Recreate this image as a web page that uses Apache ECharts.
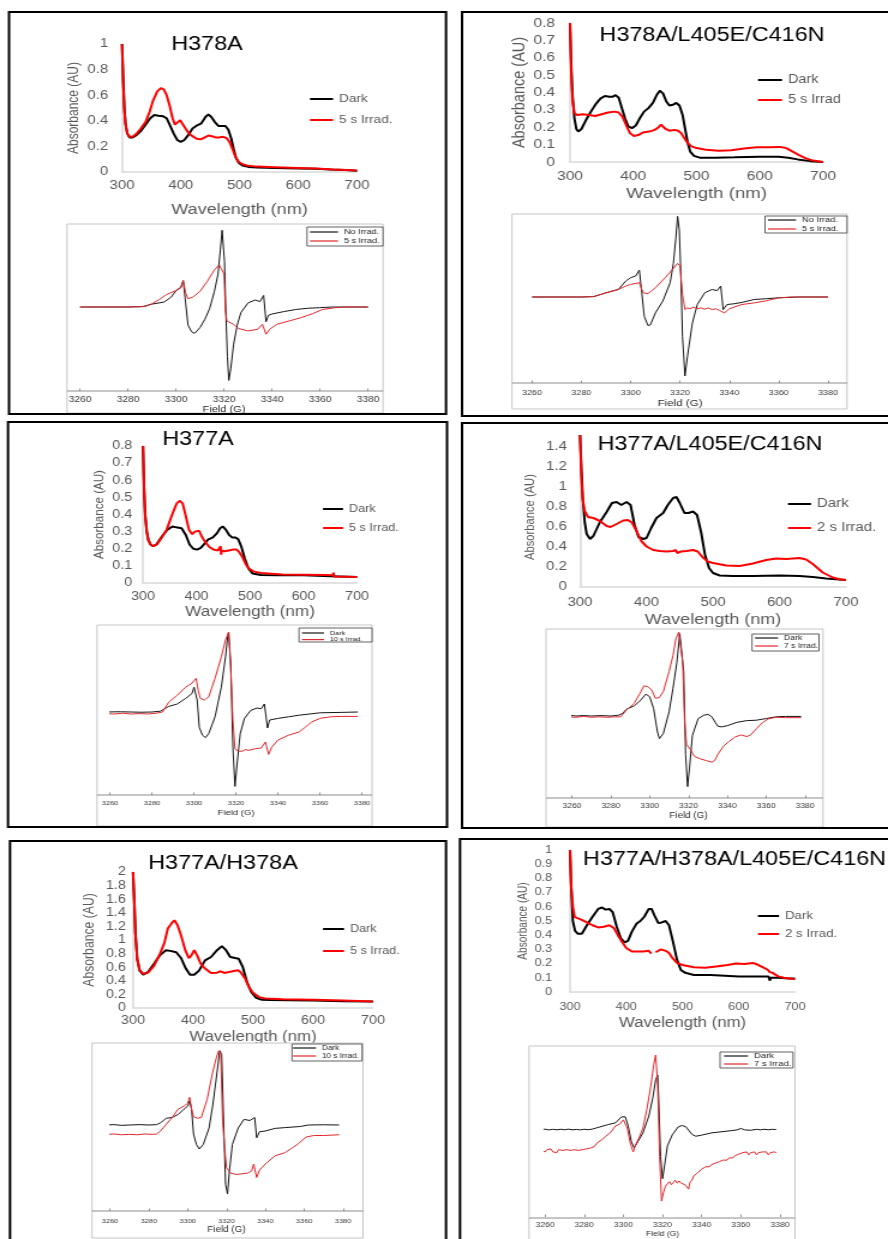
<!DOCTYPE html>
<html>
<head>
<meta charset="utf-8">
<title>Absorbance and EPR spectra of the mutants</title>
<script src="https://cdn.jsdelivr.net/npm/echarts@6/dist/echarts.min.js"></script>
<style>
  html, body { margin: 0; padding: 0; background: #fff; overflow: hidden; }
  /* the figure is laid out narrow and stretched horizontally by 1.2 */
  #chart { position: absolute; left: 0; top: 0; width: 740px; height: 1239px;
           transform: scaleX(1.2); transform-origin: 0 0; }
</style>
</head>
<body>
<div id="chart"></div>
<script>
// ---------- UV-vis absorbance spectra: [wavelength nm, absorbance AU] ----------
const h378aDark = [[300,1.0],[302,0.72],[304,0.5],[306,0.38],[309,0.3],[313,0.27],[318,0.27],[325,0.29],[332,0.32],[340,0.37],[348,0.42],[355,0.445],[362,0.44],[370,0.435],[376,0.42],[382,0.36],[388,0.3],[394,0.25],[400,0.235],[406,0.25],[413,0.29],[420,0.34],[428,0.365],[435,0.38],[442,0.43],[447,0.45],[452,0.43],[458,0.39],[464,0.36],[470,0.36],[476,0.36],[481,0.33],[486,0.26],[490,0.18],[494,0.11],[499,0.07],[505,0.05],[515,0.04],[530,0.035],[560,0.032],[600,0.028],[630,0.025],[654,0.02],[656,0.008],[658,0.02],[680,0.015],[700,0.01]];
const h378aIrrad = [[300,1.0],[302,0.7],[304,0.48],[306,0.37],[309,0.3],[313,0.275],[318,0.275],[325,0.3],[332,0.34],[340,0.39],[347,0.47],[353,0.56],[360,0.63],[366,0.655],[371,0.645],[376,0.6],[381,0.52],[386,0.42],[390,0.37],[394,0.37],[399,0.405],[403,0.395],[408,0.34],[414,0.3],[420,0.28],[427,0.26],[434,0.255],[441,0.27],[447,0.285],[453,0.28],[459,0.27],[465,0.27],[472,0.275],[478,0.265],[483,0.235],[488,0.18],[493,0.12],[498,0.08],[505,0.06],[515,0.048],[530,0.042],[560,0.038],[600,0.032],[630,0.027],[660,0.02],[700,0.012]];

const h378aTripleDark = [[300,0.8],[302,0.55],[304,0.38],[307,0.25],[310,0.19],[313,0.175],[318,0.19],[325,0.24],[333,0.29],[340,0.33],[348,0.365],[355,0.38],[362,0.375],[367,0.375],[372,0.385],[377,0.37],[382,0.31],[387,0.25],[392,0.205],[398,0.195],[404,0.21],[410,0.25],[417,0.29],[424,0.31],[431,0.34],[437,0.385],[442,0.41],[447,0.395],[452,0.35],[457,0.325],[463,0.33],[468,0.34],[473,0.325],[478,0.27],[482,0.19],[486,0.11],[490,0.06],[496,0.035],[505,0.025],[530,0.025],[560,0.027],[600,0.03],[630,0.03],[645,0.025],[660,0.015],[680,0.005],[700,0]];
const h378aTripleIrrad = [[300,0.8],[302,0.5],[304,0.35],[307,0.28],[312,0.27],[320,0.275],[330,0.27],[340,0.265],[350,0.275],[360,0.285],[370,0.29],[377,0.285],[383,0.26],[389,0.21],[395,0.165],[401,0.15],[408,0.155],[415,0.17],[425,0.175],[434,0.185],[440,0.2],[444,0.215],[447,0.205],[451,0.19],[457,0.18],[465,0.185],[471,0.18],[476,0.165],[481,0.135],[486,0.11],[492,0.09],[500,0.08],[515,0.07],[535,0.065],[555,0.068],[575,0.078],[595,0.085],[615,0.085],[632,0.087],[642,0.08],[652,0.06],[662,0.04],[672,0.022],[684,0.008],[700,0]];

const h377aDark = [[300,0.8],[302,0.55],[304,0.4],[307,0.3],[310,0.25],[314,0.225],[319,0.215],[325,0.225],[335,0.27],[345,0.31],[355,0.33],[362,0.325],[372,0.32],[380,0.28],[387,0.225],[394,0.2],[401,0.195],[408,0.205],[415,0.23],[422,0.255],[430,0.265],[438,0.29],[444,0.32],[449,0.33],[455,0.31],[461,0.28],[467,0.265],[473,0.265],[478,0.255],[484,0.21],[490,0.145],[497,0.085],[505,0.055],[520,0.047],[550,0.045],[600,0.045],[650,0.04],[700,0.035]];
const h377aIrrad = [[300,0.8],[302,0.55],[304,0.4],[307,0.3],[310,0.25],[314,0.225],[319,0.215],[326,0.225],[335,0.265],[344,0.31],[351,0.37],[357,0.42],[363,0.465],[369,0.48],[374,0.465],[380,0.39],[386,0.31],[392,0.285],[397,0.3],[401,0.31],[405,0.305],[410,0.27],[416,0.24],[424,0.21],[432,0.195],[440,0.19],[444,0.19],[445,0.215],[446,0.165],[447,0.19],[452,0.185],[460,0.19],[468,0.195],[475,0.195],[480,0.18],[486,0.15],[492,0.11],[498,0.085],[506,0.068],[520,0.058],[560,0.05],[600,0.048],[640,0.046],[655,0.045],[656,0.06],[657,0.038],[660,0.044],[700,0.035]];

const h377aTripleDark = [[300,1.52],[302,1.2],[304,0.9],[307,0.65],[310,0.53],[315,0.48],[320,0.51],[330,0.65],[340,0.75],[348,0.84],[355,0.85],[362,0.82],[370,0.85],[376,0.82],[382,0.62],[388,0.5],[395,0.48],[400,0.49],[407,0.59],[415,0.69],[425,0.74],[432,0.82],[440,0.89],[445,0.9],[450,0.84],[457,0.74],[463,0.74],[470,0.755],[476,0.72],[482,0.55],[488,0.32],[494,0.19],[500,0.14],[510,0.115],[530,0.11],[560,0.11],[600,0.115],[630,0.11],[650,0.1],[670,0.085],[690,0.075],[700,0.07]];
const h377aTripleIrrad = [[300,1.52],[302,1.1],[304,0.88],[307,0.76],[312,0.7],[320,0.69],[330,0.66],[340,0.61],[346,0.6],[355,0.63],[365,0.665],[372,0.67],[378,0.645],[385,0.56],[392,0.46],[400,0.405],[410,0.37],[420,0.36],[430,0.355],[440,0.36],[444,0.37],[446,0.34],[448,0.36],[452,0.355],[460,0.36],[470,0.37],[477,0.355],[484,0.3],[492,0.255],[500,0.24],[520,0.215],[540,0.21],[560,0.235],[580,0.27],[595,0.285],[610,0.28],[630,0.29],[640,0.275],[650,0.23],[665,0.145],[680,0.095],[690,0.078],[700,0.07]];

const doubleDark = [[300,2.0],[302,1.6],[304,1.1],[307,0.72],[311,0.55],[317,0.49],[325,0.53],[335,0.65],[345,0.78],[355,0.85],[362,0.84],[372,0.82],[380,0.735],[388,0.58],[395,0.49],[402,0.49],[410,0.55],[420,0.7],[430,0.75],[440,0.85],[448,0.91],[455,0.85],[462,0.75],[470,0.735],[476,0.725],[483,0.6],[490,0.38],[497,0.235],[505,0.15],[515,0.12],[530,0.118],[560,0.115],[600,0.11],[650,0.1],[700,0.095]];
const doubleIrrad = [[300,2.0],[302,1.6],[304,1.1],[307,0.72],[311,0.56],[317,0.5],[325,0.52],[335,0.62],[345,0.8],[352,0.95],[358,1.17],[365,1.255],[369,1.29],[374,1.22],[380,1.07],[387,0.85],[393,0.735],[397,0.77],[402,0.85],[407,0.77],[413,0.65],[420,0.58],[430,0.515],[440,0.52],[444,0.5],[446,0.54],[452,0.515],[460,0.53],[468,0.545],[475,0.555],[480,0.52],[487,0.43],[493,0.31],[500,0.225],[510,0.16],[520,0.14],[550,0.13],[600,0.12],[650,0.11],[700,0.095]];

const quadDark = [[300,1.0],[302,0.75],[305,0.5],[309,0.43],[314,0.41],[321,0.41],[330,0.47],[340,0.53],[350,0.585],[357,0.595],[363,0.58],[370,0.585],[376,0.56],[383,0.46],[390,0.38],[397,0.35],[403,0.36],[410,0.425],[418,0.48],[425,0.5],[432,0.53],[440,0.585],[445,0.585],[450,0.54],[457,0.485],[463,0.49],[470,0.5],[476,0.47],[483,0.355],[490,0.23],[497,0.155],[505,0.135],[520,0.12],[550,0.12],[600,0.11],[640,0.11],[653,0.11],[655,0.08],[657,0.1],[670,0.1],[690,0.095],[700,0.095]];
const quadIrrad = [[300,1.0],[302,0.75],[305,0.6],[308,0.53],[313,0.52],[320,0.51],[330,0.49],[340,0.47],[350,0.455],[360,0.46],[370,0.47],[378,0.45],[385,0.4],[392,0.355],[400,0.31],[410,0.285],[420,0.285],[430,0.285],[440,0.29],[443,0.3],[444.5,0.27],[449,'-'],[452,0.28],[455,0.275],[462,0.3],[470,0.29],[476,0.275],[482,0.24],[490,0.205],[500,0.19],[520,0.175],[540,0.17],[560,0.18],[580,0.19],[595,0.2],[610,0.197],[625,0.205],[635,0.19],[645,0.17],[652,0.155],[655,0.14],[660,0.135],[670,0.11],[680,0.1],[690,0.095],[700,0.09]];

// ---------- EPR derivative spectra: [field G, normalised intensity] ----------
const eprH378aDark = [[3260,0],[3270,0],[3280,0],[3286,0.005],[3290,0.035],[3295,0.06],[3298,0.12],[3300,0.2],[3302,0.24],[3303,0.32],[3304,0.05],[3305,-0.22],[3306.5,-0.3],[3307.7,-0.32],[3310,-0.25],[3312,-0.15],[3314,-0.02],[3316,0.19],[3317.5,0.4],[3318.5,0.7],[3319.2,0.93],[3319.7,0.94],[3320.2,0.55],[3320.8,-0.1],[3321.4,-0.6],[3322,-0.89],[3322.8,-0.75],[3324,-0.45],[3325.5,-0.22],[3327,-0.07],[3330,0.05],[3333,0.085],[3335,0.065],[3336.5,0.14],[3337.5,-0.18],[3338.5,-0.1],[3340,-0.085],[3345,-0.055],[3350,-0.03],[3355,-0.015],[3360,-0.008],[3365,0],[3380,0]];
const eprH378aIrrad = [[3260,0],[3270,0],[3280,0],[3287,0.005],[3290,0.04],[3293,0.09],[3296,0.15],[3300,0.2],[3302,0.23],[3303,0.32],[3304,0.17],[3305,0.1],[3307,0.12],[3310,0.19],[3313,0.31],[3316,0.45],[3318,0.51],[3319,0.51],[3320,0.4],[3320.6,-0.05],[3321.2,-0.17],[3322,-0.18],[3324,-0.21],[3326,-0.26],[3330,-0.29],[3334,-0.27],[3336,-0.21],[3337.5,-0.33],[3339,-0.27],[3342,-0.21],[3347,-0.17],[3352,-0.13],[3357,-0.08],[3361,-0.03],[3366,-0.01],[3370,0],[3380,0]];

const eprH378aTripleDark = [[3260,0],[3270,0],[3280,0],[3285,0.005],[3290,0.05],[3295,0.09],[3298,0.19],[3300,0.23],[3302,0.25],[3303.5,0.32],[3304.5,0.05],[3305.5,-0.23],[3307,-0.34],[3308,-0.33],[3310,-0.19],[3313,-0.05],[3316,0.17],[3317.3,0.4],[3318.3,0.7],[3319,0.96],[3319.7,0.8],[3320.3,0.3],[3321,-0.47],[3322,-0.94],[3323,-0.71],[3325,-0.31],[3327,-0.09],[3330,0.05],[3333,0.09],[3335,0.075],[3336.5,0.13],[3337.5,-0.15],[3339,-0.09],[3342,-0.08],[3345,-0.065],[3350,-0.03],[3355,-0.02],[3360,-0.01],[3368,0],[3380,0]];
const eprH378aTripleIrrad = [[3260,0],[3270,0],[3280,0],[3285,0.005],[3290,0.05],[3295,0.09],[3298,0.13],[3300,0.15],[3303.5,0.17],[3305,0.05],[3307,0.04],[3310,0.11],[3314,0.23],[3317,0.33],[3319,0.4],[3320,0.37],[3321,0.03],[3322,-0.15],[3323,-0.13],[3324,-0.14],[3325.5,-0.12],[3327,-0.14],[3328.5,-0.13],[3330,-0.145],[3331.5,-0.13],[3333,-0.15],[3334.5,-0.14],[3336,-0.16],[3338,-0.19],[3340,-0.14],[3345,-0.09],[3350,-0.07],[3355,-0.045],[3360,-0.01],[3365,0],[3380,0]];

const eprH377aDark = [[3258,0],[3265,0.003],[3270,0],[3275,-0.003],[3280,0],[3284,0.01],[3286,0.04],[3288,0.07],[3292,0.1],[3296,0.17],[3299,0.23],[3300,0.31],[3300.6,0.29],[3301.5,0.15],[3302.5,-0.19],[3304,-0.29],[3305.5,-0.32],[3307,-0.27],[3310,-0.06],[3313,0.31],[3315,0.69],[3316,0.94],[3316.5,1.0],[3317.5,0.6],[3318.5,-0.44],[3319.5,-0.93],[3320.5,-0.65],[3322,-0.27],[3324,-0.08],[3327,0.02],[3330,0.05],[3332,0.04],[3333.5,0.1],[3335,-0.2],[3336,-0.1],[3340,-0.08],[3345,-0.06],[3350,-0.04],[3360,-0.01],[3370,-0.005],[3378,0]];
const eprH377aIrrad = [[3258,-0.02],[3262,-0.025],[3266,-0.015],[3270,-0.025],[3274,-0.02],[3278,-0.025],[3282,-0.015],[3285,0.0],[3288,0.125],[3292,0.21],[3296,0.31],[3299,0.36],[3301,0.42],[3302,0.27],[3303,0.17],[3305,0.15],[3307,0.19],[3310,0.42],[3313,0.69],[3315,0.9],[3316.5,1.0],[3317.5,0.52],[3318.5,-0.1],[3319.5,-0.46],[3321,-0.49],[3323,-0.49],[3324.5,-0.47],[3326,-0.48],[3329,-0.46],[3332,-0.45],[3334,-0.375],[3335.5,-0.53],[3337,-0.44],[3340,-0.35],[3345,-0.29],[3350,-0.25],[3353,-0.19],[3356,-0.125],[3360,-0.08],[3365,-0.06],[3370,-0.055],[3378,-0.055]];

const eprH377aTripleDark = [[3258,0.01],[3262,0],[3266,0.005],[3270,0],[3275,0.005],[3280,0],[3284,0.01],[3286,0.03],[3288,0.08],[3292,0.12],[3295,0.18],[3298,0.26],[3300,0.23],[3302,0.09],[3304,-0.19],[3305,-0.27],[3307,-0.21],[3310,0.05],[3312,0.33],[3314,0.64],[3315.5,0.98],[3316.5,0.98],[3317.5,0.53],[3318.5,-0.46],[3319.5,-0.84],[3320.5,-0.62],[3322,-0.23],[3325,-0.03],[3328,0.01],[3330,0.02],[3332,-0.01],[3335,-0.12],[3337,-0.13],[3340,-0.115],[3345,-0.075],[3350,-0.055],[3355,-0.05],[3360,-0.03],[3365,-0.01],[3370,-0.005],[3378,-0.005]];
const eprH377aTripleIrrad = [[3258,-0.01],[3262,-0.015],[3266,-0.005],[3270,-0.015],[3274,-0.01],[3278,-0.015],[3282,-0.01],[3285,-0.01],[3288,0.07],[3292,0.15],[3295,0.27],[3297,0.36],[3299,0.35],[3301,0.31],[3303,0.21],[3305,0.22],[3307,0.29],[3310,0.53],[3312,0.72],[3313.5,0.92],[3315,1.0],[3316,1.0],[3317,0.64],[3318,-0.07],[3319,-0.34],[3321,-0.4],[3323,-0.48],[3326,-0.51],[3329,-0.53],[3332,-0.55],[3333.5,-0.53],[3335,-0.46],[3338,-0.36],[3341,-0.3],[3344,-0.25],[3347,-0.225],[3350,-0.245],[3352,-0.225],[3355,-0.15],[3358,-0.08],[3361,-0.035],[3365,-0.015],[3370,-0.02],[3378,-0.02]];

const eprDoubleDark = [[3258,0],[3262,0.005],[3266,-0.005],[3270,0],[3275,0.005],[3280,0],[3284,0.005],[3286,0.03],[3289,0.09],[3292,0.1],[3295,0.14],[3298,0.21],[3300,0.25],[3301,0.32],[3302,0.21],[3303,-0.12],[3304.5,-0.26],[3306,-0.32],[3308,-0.26],[3311,-0.04],[3313,0.28],[3315,0.68],[3316.5,0.99],[3317.5,0.94],[3318.5,0.05],[3319.5,-0.79],[3320.5,-0.92],[3321.5,-0.61],[3323,-0.26],[3326,-0.04],[3329,0.075],[3332,0.06],[3334.5,0.1],[3335.5,-0.17],[3337,-0.09],[3340,-0.08],[3345,-0.045],[3350,-0.035],[3358,-0.02],[3362,0],[3370,0.003],[3378,0]];
const eprDoubleIrrad = [[3258,-0.125],[3262,-0.12],[3266,-0.13],[3270,-0.125],[3274,-0.13],[3278,-0.12],[3282,-0.125],[3284,-0.12],[3286,-0.08],[3289,0.01],[3292,0.1],[3295,0.21],[3298,0.25],[3300,0.29],[3301,0.37],[3302,0.21],[3303,0.11],[3305,0.09],[3307,0.1],[3310,0.34],[3313,0.72],[3315,0.92],[3316,0.99],[3317,0.96],[3318,0.05],[3319,-0.3],[3320,-0.57],[3322,-0.64],[3325,-0.66],[3328,-0.65],[3331,-0.64],[3333,-0.61],[3334,-0.52],[3335.5,-0.7],[3337,-0.6],[3340,-0.52],[3345,-0.41],[3350,-0.37],[3353,-0.32],[3357,-0.25],[3361,-0.16],[3365,-0.14],[3370,-0.14],[3378,-0.13]];

const eprQuadDark = [[3258,0],[3260,0.005],[3262,-0.005],[3264,0.003],[3266,-0.004],[3268,0.004],[3270,-0.003],[3272,0.005],[3274,-0.004],[3276,0.002],[3278,-0.005],[3280,0.004],[3282,-0.002],[3284,0.005],[3286,0.02],[3288,0.035],[3292,0.065],[3296,0.09],[3299,0.17],[3300,0.185],[3301,0.17],[3302.5,0.045],[3304,-0.155],[3305.5,-0.245],[3307,-0.18],[3310,-0.045],[3313,0.18],[3315,0.42],[3316.5,0.67],[3317.5,0.73],[3318,0.44],[3319,-0.36],[3320,-0.66],[3321,-0.49],[3322.5,-0.22],[3325,-0.07],[3328,0.035],[3330,0.055],[3332,0.035],[3335,-0.065],[3337,-0.09],[3340,-0.075],[3345,-0.045],[3350,-0.03],[3355,-0.015],[3358,-0.005],[3360,0.015],[3362,-0.005],[3365,-0.01],[3368,0.003],[3370,-0.004],[3372,0.004],[3374,-0.003],[3376,0.003],[3378,0]];
const eprQuadIrrad = [[3258,-0.28],[3259,-0.26],[3260,-0.3],[3261,-0.27],[3262,-0.29],[3263,-0.26],[3264,-0.3],[3265,-0.28],[3266,-0.31],[3267,-0.27],[3268,-0.29],[3269,-0.28],[3270,-0.3],[3271,-0.27],[3272,-0.29],[3273,-0.28],[3274,-0.3],[3275,-0.27],[3276,-0.29],[3277,-0.28],[3278,-0.29],[3279,-0.27],[3280,-0.29],[3281,-0.26],[3282,-0.28],[3283,-0.25],[3284,-0.26],[3285,-0.23],[3286,-0.22],[3287,-0.17],[3288,-0.16],[3289,-0.14],[3290,-0.12],[3291,-0.09],[3292,-0.08],[3293,-0.05],[3294,-0.02],[3295,0.0],[3296,0.05],[3297,0.065],[3298,0.07],[3299,0.1],[3300,0.13],[3301,0.11],[3302,0.02],[3303.5,-0.18],[3305,-0.3],[3306,-0.22],[3308,-0.11],[3310,0.02],[3312,0.27],[3314,0.58],[3315.5,0.87],[3316.5,1.0],[3317.5,0.62],[3318.5,-0.36],[3319.5,-0.96],[3320.5,-0.84],[3321.5,-0.76],[3322.5,-0.73],[3323.5,-0.7],[3324.5,-0.74],[3325.5,-0.71],[3326.5,-0.68],[3327.5,-0.72],[3328.5,-0.69],[3329.5,-0.72],[3330.5,-0.7],[3331.5,-0.74],[3332.5,-0.76],[3333.3,-0.8],[3334,-0.71],[3335,-0.68],[3336,-0.62],[3337,-0.63],[3338,-0.58],[3339,-0.57],[3340,-0.53],[3341,-0.55],[3342,-0.5],[3343,-0.48],[3344,-0.5],[3345,-0.47],[3346,-0.48],[3347,-0.45],[3348,-0.46],[3349,-0.43],[3350,-0.44],[3351,-0.41],[3352,-0.4],[3353,-0.41],[3354,-0.38],[3355,-0.37],[3356,-0.38],[3357,-0.35],[3358,-0.35],[3359,-0.33],[3360,-0.34],[3361,-0.31],[3362,-0.33],[3363,-0.3],[3364,-0.34],[3365,-0.31],[3366,-0.33],[3367,-0.3],[3368,-0.34],[3369,-0.31],[3370,-0.33],[3371,-0.3],[3372,-0.32],[3373,-0.3],[3374,-0.34],[3375,-0.31],[3376,-0.32],[3377,-0.3],[3378,-0.31]];

// ---------- labels ----------
const panelTitles = ['H378A', 'H378A/L405E/C416N', 'H377A', 'H377A/L405E/C416N', 'H377A/H378A', 'H377A/H378A/L405E/C416N'];
const uvNames = [['Dark','5 s Irrad.'], ['Dark','5 s Irrad'], ['Dark','5 s Irrad.'], ['Dark','2 s Irrad.'], ['Dark','5 s Irrad.'], ['Dark','2 s Irrad.']];
const eprNames = [['No Irrad.','5 s Irrad.'], ['No Irrad.','5 s Irrad.'], ['Dark','10 s Irrad.'], ['Dark','7 s Irrad.'], ['Dark','10 s Irrad.'], ['Dark','7 s Irrad.']];
const uvData = [[h378aDark,h378aIrrad],[h378aTripleDark,h378aTripleIrrad],[h377aDark,h377aIrrad],[h377aTripleDark,h377aTripleIrrad],[doubleDark,doubleIrrad],[quadDark,quadIrrad]];
const eprData = [[eprH378aDark,eprH378aIrrad],[eprH378aTripleDark,eprH378aTripleIrrad],[eprH377aDark,eprH377aIrrad],[eprH377aTripleDark,eprH377aTripleIrrad],[eprDoubleDark,eprDoubleIrrad],[eprQuadDark,eprQuadIrrad]];
const yAxisMax = [1, 0.8, 0.8, 1.4, 2, 1];
const yAxisStep = [0.2, 0.1, 0.1, 0.2, 0.2, 0.1];

// ---------- layout (page pixels, x before the 1.2 stretch is undone) ----------
const S = 1.2;
const X = v => v / S;
const FONT = '"Liberation Sans", Arial, Helvetica, sans-serif';
const BLACK = '#000000', RED = '#ff0000';
const EPR_BLACK = '#151515', EPR_RED = '#e3262b';

const frames = [[9,12,446,414],[462,12,892,416],[8,422,447,827],[462,423,892,828],[10,841,446,1245],[460,839,892,1245]];

const uvLayout = [
  {tx:207, ty:45, align:'center', x0:122, x1:357, yTop:44, yBot:172, leg:{x:310,y:99,gap:21,len:27,fs:11.3}, tickFs:12.5, xMargin:7, yMargin:11.5, xNameFs:15, xNameGap:30, yNameFs:12, yNameGap:34},
  {tx:712, ty:36, align:'center', x0:570, x1:823, yTop:23, yBot:162, leg:{x:758,y:80,gap:20,len:28,fs:12}, tickFs:13, xMargin:7.5, yMargin:12.5, xNameFs:15.5, xNameGap:24, yNameFs:14.5, yNameGap:34.5},
  {tx:198, ty:440, align:'center', x0:143, x1:357, yTop:446, yBot:583, leg:{x:323,y:509,gap:19,len:24,fs:10.5}, tickFs:12, xMargin:8, yMargin:9, xNameFs:14.3, xNameGap:22, yNameFs:11.6, yNameGap:30},
  {tx:710, ty:445, align:'center', x0:580, x1:846, yTop:447, yBot:587, leg:{x:788,y:504,gap:24,len:27,fs:12.5}, tickFs:12.5, xMargin:9, yMargin:11, xNameFs:15, xNameGap:25, yNameFs:11.2, yNameGap:36},
  {tx:223, ty:864, align:'center', x0:133, x1:373, yTop:872, yBot:1008, leg:{x:323,y:929,gap:22,len:25,fs:10.5}, tickFs:12, xMargin:7, yMargin:6, xNameFs:14, xNameGap:22, yNameFs:12.2, yNameGap:30.7},
  {tx:583, ty:860, align:'left', x0:570, x1:795, yTop:850, yBot:992, leg:{x:758,y:916,gap:18,len:25,fs:11}, tickFs:10.5, xMargin:10, yMargin:15, xNameFs:14, xNameGap:24, yNameFs:10.1, yNameGap:34}
];

const eprLayout = [
  {x0:80, x1:368, mid:307, unit:82.5, axisY:391, box:[67,224,383,413], leg:{x:310,y:232,gap:9,len:32,fs:7.5,box:[307,227,383,246]}, tickFs:8.5, tickMargin:4, nameFs:9.2, nameGap:12.5},
  {x0:532, x1:828, mid:297, unit:84, axisY:383, box:[512,214,847,409], leg:{x:768,y:220,gap:9,len:32,fs:7.7,box:[765,216,847,233]}, tickFs:7.5, tickMargin:6, nameFs:9.6, nameGap:14.5},
  {x0:110, x1:362, mid:712, unit:80, axisY:795, box:[97,625,372,826], leg:{x:302,y:633,gap:6.6,len:26,fs:6,box:[299,628,372,642]}, tickFs:6.2, tickMargin:5.5, nameFs:7.9, nameGap:14},
  {x0:572, x1:805, mid:716, unit:84, axisY:798, box:[546,629,823,827], leg:{x:755,y:638,gap:8,len:27,fs:7.2,box:[752,634,819,651]}, tickFs:7.1, tickMargin:4.5, nameFs:8.2, nameGap:14},
  {x0:110, x1:343, mid:1125, unit:75, axisY:1211, box:[92,1043,363,1238], leg:{x:293,y:1048,gap:8,len:27,fs:6.8,box:[292,1044,362,1061]}, tickFs:6.2, tickMargin:7, nameFs:8.2, nameGap:14.5},
  {x0:545, x1:780, mid:1130, unit:75, axisY:1218, box:[529,1046,795,1245], leg:{x:724,y:1056,gap:8,len:28,fs:7.9,box:[720,1052,793,1068]}, tickFs:7.2, tickMargin:4.5, nameFs:7.1, nameGap:14}
];

const grid = [], xAxis = [], yAxis = [], series = [], legend = [], graphic = [];

function rect(b, style, z) {
  graphic.push({type:'rect', silent:true, z:z,
    shape:{x:X(b[0]), y:b[1], width:X(b[2]-b[0]), height:b[3]-b[1]}, style:style});
}

// UV-vis panels
uvLayout.forEach((p, i) => {
  const g = grid.length;
  grid.push({left:X(p.x0), top:p.yTop, width:X(p.x1-p.x0), height:p.yBot-p.yTop});
  xAxis.push({gridIndex:g, type:'value', min:300, max:700, interval:100, z:0,
    axisLine:{show:true, onZero:false, lineStyle:{color:'#d9d9d9', width:1.5}},
    axisTick:{show:false}, splitLine:{show:false},
    axisLabel:{fontFamily:FONT, fontSize:p.tickFs, color:'#595959', margin:p.xMargin},
    name:'Wavelength (nm)', nameLocation:'middle', nameGap:p.xNameGap,
    nameTextStyle:{fontFamily:FONT, fontSize:p.xNameFs, color:'#595959'}});
  yAxis.push({gridIndex:g, type:'value', min:0, max:yAxisMax[i], interval:yAxisStep[i], z:0,
    axisLine:{show:true, lineStyle:{color:'#d9d9d9', width:1.5}},
    axisTick:{show:false}, splitLine:{show:false},
    axisLabel:{fontFamily:FONT, fontSize:p.tickFs, color:'#595959', margin:p.yMargin},
    name:'Absorbance (AU)', nameLocation:'middle', nameRotate:90, nameGap:p.yNameGap,
    nameTextStyle:{fontFamily:FONT, fontSize:p.yNameFs, color:'#595959'}});
  uvNames[i].forEach((nm, k) => {
    series.push({type:'line', name:nm, data:uvData[i][k], xAxisIndex:g, yAxisIndex:g,
      showSymbol:false, symbol:'none', clip:false, animation:false, z:2+k,
      lineStyle:{color:k ? RED : BLACK, width:2}, itemStyle:{color:k ? RED : BLACK}});
  });
  legend.push({orient:'vertical', left:X(p.leg.x), top:p.leg.y - p.leg.gap/2, padding:0, itemGap:0,
    itemWidth:X(p.leg.len - 4), itemHeight:2, icon:'rect', selectedMode:false, z:6,
    textStyle:{fontFamily:FONT, fontSize:p.leg.fs, color:'#595959', lineHeight:p.leg.gap},
    data:[{name:uvNames[i][0], itemStyle:{color:BLACK}}, {name:uvNames[i][1], itemStyle:{color:RED}}]});
  graphic.push({type:'text', silent:true, z:6,
    style:{text:panelTitles[i], x:X(p.tx), y:p.ty, fill:'#000', font:'19.5px ' + FONT,
      textAlign:p.align, align:p.align, textVerticalAlign:'middle', verticalAlign:'middle'}});
});

// EPR panels
eprLayout.forEach((p, i) => {
  const g = grid.length;
  const top = p.mid - p.unit;
  rect(p.box, {fill:'#ffffff', stroke:'#c6c6c6', lineWidth:1}, 1);
  graphic.push({type:'line', silent:true, z:1,
    shape:{x1:X(p.box[0]), y1:p.axisY, x2:X(p.box[2]), y2:p.axisY}, style:{stroke:'#8c8c8c', lineWidth:1}});
  grid.push({left:X(p.x0), top:top, width:X(p.x1-p.x0), height:p.axisY-top});
  xAxis.push({gridIndex:g, type:'value', min:3260, max:3380, interval:20, z:3,
    axisLine:{show:false, onZero:false}, splitLine:{show:false},
    axisTick:{show:true, inside:true, length:2.5, lineStyle:{color:'#777', width:0.8}},
    axisLabel:{fontFamily:FONT, fontSize:p.tickFs, color:'#3a3a3a', margin:p.tickMargin,
      formatter:v => String(v)},
    name:'Field (G)', nameLocation:'middle', nameGap:p.nameGap,
    nameTextStyle:{fontFamily:FONT, fontSize:p.nameFs, color:'#2a2a2a'}});
  yAxis.push({gridIndex:g, type:'value', min:-(p.axisY - p.mid)/p.unit, max:1, show:false});
  eprNames[i].forEach((nm, k) => {
    series.push({type:'line', name:nm, data:eprData[i][k], xAxisIndex:g, yAxisIndex:g,
      showSymbol:false, symbol:'none', clip:false, animation:false, z:2+k,
      lineStyle:{color:k ? EPR_RED : EPR_BLACK, width:1}, itemStyle:{color:k ? EPR_RED : EPR_BLACK}});
  });
  rect(p.leg.box, {fill:'#ffffff', stroke:'#3a3a3a', lineWidth:0.8}, 5);
  legend.push({orient:'vertical', left:X(p.leg.x), top:p.leg.y - p.leg.gap/2, padding:0, itemGap:0,
    itemWidth:X(p.leg.len - 4), itemHeight:1.2, icon:'rect', selectedMode:false, z:6,
    textStyle:{fontFamily:FONT, fontSize:p.leg.fs, color:'#222', lineHeight:p.leg.gap},
    data:[{name:eprNames[i][0], itemStyle:{color:EPR_BLACK}}, {name:eprNames[i][1], itemStyle:{color:EPR_RED}}]});
});

// panel frames
frames.forEach(b => rect(b, {fill:'none', stroke:'#000', lineWidth:2}, 7));

const chart = echarts.init(document.getElementById('chart'), null, {renderer:'canvas'});
chart.setOption({
  animation:false,
  backgroundColor:'#ffffff',
  textStyle:{fontFamily:FONT},
  grid, xAxis, yAxis, series, legend, graphic
});
</script>
</body>
</html>
